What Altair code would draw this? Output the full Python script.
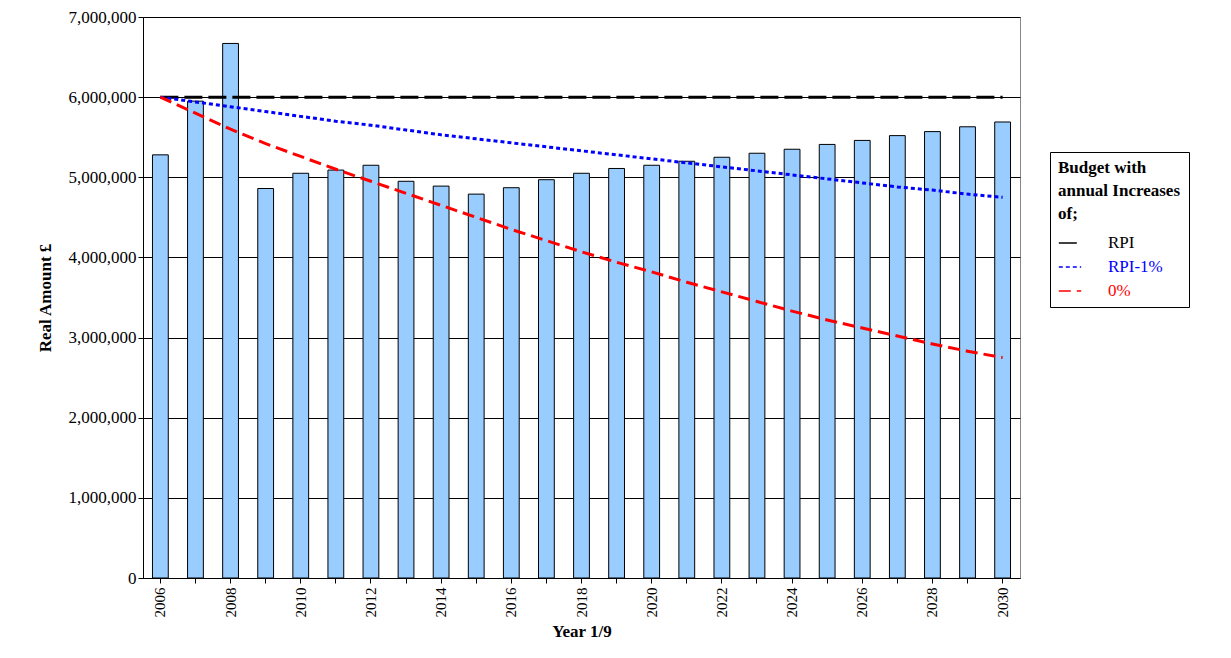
import altair as alt
import pandas as pd

years = list(range(2006, 2031))
actual = [5.28,5.95,6.67,4.86,5.05,5.09,5.15,4.95,4.89,4.79,4.87,4.97,5.05,5.11,5.15,5.20,5.25,5.30,5.35,5.41,5.46,5.52,5.57,5.63,5.69]
rpi = [6.0]*25
rpi1 = [6.00,5.94,5.88,5.82,5.76,5.70,5.65,5.59,5.53,5.48,5.43,5.38,5.33,5.28,5.23,5.18,5.13,5.08,5.03,4.98,4.93,4.88,4.84,4.79,4.75]
zero = [6.00,5.80,5.60,5.42,5.26,5.10,4.95,4.80,4.65,4.50,4.35,4.21,4.07,3.94,3.82,3.69,3.57,3.45,3.33,3.22,3.12,3.02,2.92,2.83,2.75]

bars = pd.DataFrame({"year": [str(y) for y in years], "value": [v*1e6 for v in actual]})
rows = []
for name, vals in [("RPI", rpi), ("RPI-1%", rpi1), ("0%", zero)]:
    for y, v in zip(years, vals):
        rows.append({"year": str(y), "value": v*1e6, "series": name})
lines = pd.DataFrame(rows)

F = "Liberation Serif"
x = alt.X("year:N", title="Year 1/9", scale=alt.Scale(paddingInner=0.55, paddingOuter=0.27),
          axis=alt.Axis(labelAngle=-90, labelExpr="parseInt(datum.value) % 2 == 0 ? datum.value : ''",
                        ticks=True, tickColor="black", domainColor="black", labelFont=F, labelFontSize=15,
                        labelColor="black", titleFont=F, titleFontSize=17, titleColor="black", labelPadding=4,
                        titlePadding=6))
y = alt.Y("value:Q", title="Real Amount £", scale=alt.Scale(domain=[0, 7000000]),
          axis=alt.Axis(format=",d", values=list(range(0, 7000001, 1000000)),
                        gridColor="black", gridWidth=1, domainColor="black", tickColor="black",
                        labelFont=F, labelFontSize=17, labelColor="black", titleFont=F,
                        titleFontSize=17, titleColor="black", titlePadding=14))

b = alt.Chart(bars).mark_bar(color="#99CCFF", stroke="black", strokeWidth=1).encode(x=x, y=y)

l = alt.Chart(lines).mark_line(strokeWidth=3).encode(
    x=alt.X("year:N"), y=alt.Y("value:Q"),
    color=alt.Color("series:N", scale=alt.Scale(domain=["RPI", "RPI-1%", "0%"], range=["black", "blue", "red"]),
                    legend=alt.Legend(title=["Budget with", "annual Increases", "of;"], orient="none",
                                      legendX=907, legendY=135, padding=8, strokeColor="black",
                                      fillColor="white", titleFont=F, titleFontSize=17, titleColor="black",
                                      labelFont=F, labelFontSize=17, symbolType="stroke", symbolStrokeWidth=1.5,
                                      symbolDash=[3, 2], symbolSize=500, rowPadding=4, titlePadding=8,
                                      titleLineHeight=23, labelLimit=300, symbolOffset=0,
                                      labelColor={"expr": "datum.label == 'RPI' ? 'black' : datum.label == 'RPI-1%' ? 'blue' : 'red'"},
                                      labelOffset=26)),
    strokeDash=alt.StrokeDash("series:N", scale=alt.Scale(domain=["RPI", "RPI-1%", "0%"],
                                                          range=[[18, 6], [4, 3], [12, 6]]), legend=None),
    order=alt.value(0))

chart = (b + l).properties(width=877, height=561, padding={"left": 28, "top": 0, "right": 5, "bottom": 5}
                           ).configure_view(stroke="#888888", strokeWidth=1)
chart.save("out.html", embed_options={"renderer": "svg", "actions": False})
